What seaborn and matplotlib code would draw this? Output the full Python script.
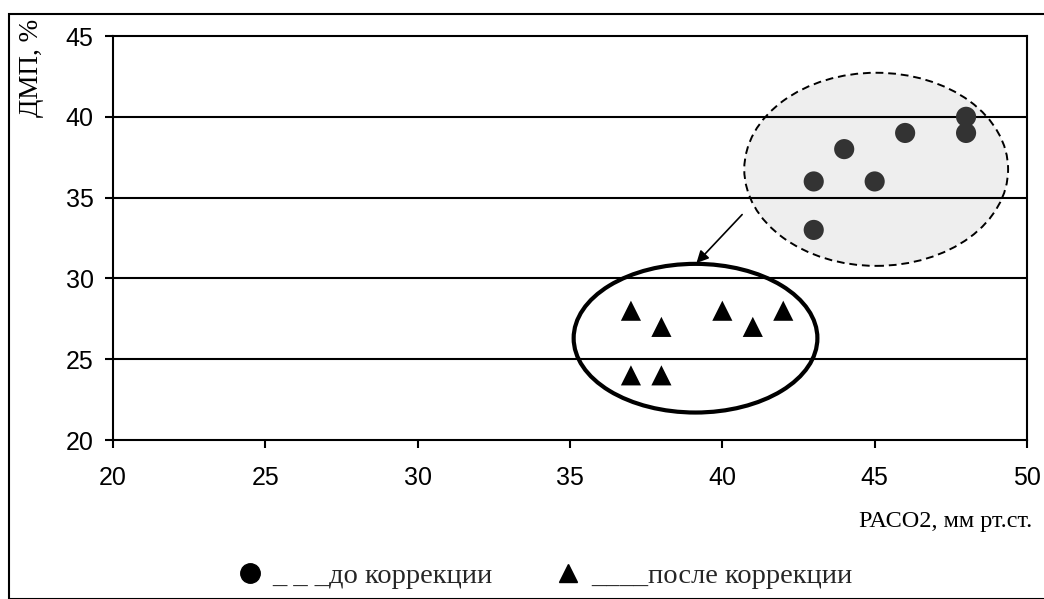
import matplotlib
matplotlib.use("Agg")
import matplotlib.pyplot as plt
import seaborn as sns
import pandas as pd
from matplotlib.patches import Ellipse, Rectangle
from matplotlib.lines import Line2D

# Data
before_x = [43, 43, 44, 45, 46, 48, 48]
before_y = [36, 33, 38, 36, 39, 40, 39]
after_x = [37, 37, 38, 38, 40, 41, 42]
after_y = [28, 24, 27, 24, 28, 27, 28]
group_labels = ["до коррекции", "после коррекции"]
legend_labels = ["_ _ _до коррекции", "____после коррекции"]
x_ticks = [20, 25, 30, 35, 40, 45, 50]
y_ticks = [20, 25, 30, 35, 40, 45]
x_label = "РАСО2, мм рт.ст."
y_label = "ДМП, %"

df = pd.DataFrame({
    "x": before_x + after_x,
    "y": before_y + after_y,
    "g": [group_labels[0]] * len(before_x) + [group_labels[1]] * len(after_x),
})

sns.set_theme(style="white")
plt.rcParams["font.family"] = ["Liberation Sans", "DejaVu Sans"]

fig = plt.figure(figsize=(10.44, 5.99), dpi=100)
W, H = 1044, 599
ax = fig.add_axes([113 / W, 1 - 440 / H, (1027 - 113) / W, (440 - 36) / H])

# outer frame
fig.patches.append(Rectangle((9 / W, 0), 1.2, 1 - 14 / H, transform=fig.transFigure,
                             fill=False, edgecolor="black", linewidth=1.5, zorder=0))

ax.set_xlim(20, 50)
ax.set_ylim(20, 45)

# dashed, grey ellipse (before)
ax.add_patch(Ellipse((45.05, 36.75), 8.66, 11.95, facecolor="#eeeeee",
                     edgecolor="none", zorder=0.5))
ax.add_patch(Ellipse((45.05, 36.75), 8.66, 11.95, facecolor="none",
                     edgecolor="black", linewidth=1.4, linestyle=(0, (4, 2.5)), zorder=2.5))

# grid
for yv in y_ticks[1:-1]:
    ax.axhline(yv, color="black", linewidth=1.5, zorder=1)

# solid ellipse (after)
ax.add_patch(Ellipse((39.12, 26.3), 8.0, 9.2, facecolor="none",
                     edgecolor="black", linewidth=3, zorder=2.5))

# arrow
ax.annotate("", xy=(39.15, 30.95), xytext=(40.65, 33.95),
            arrowprops=dict(arrowstyle="-|>", color="black", lw=1.2,
                            mutation_scale=18, shrinkA=0, shrinkB=0), zorder=3)

sns.scatterplot(data=df, x="x", y="y", hue="g", style="g",
                markers={group_labels[0]: "o", group_labels[1]: "^"},
                palette={group_labels[0]: "#333333", group_labels[1]: "black"},
                s=210, edgecolor="none", linewidth=0, legend=False, ax=ax, zorder=4)

ax.set_xticks(x_ticks)
ax.set_yticks(y_ticks)
ax.tick_params(axis="both", direction="out", length=6, width=1.5, color="black",
               labelsize=18, labelcolor="black", left=True, bottom=True)
ax.tick_params(axis="x", pad=13)
ax.tick_params(axis="y", pad=8)
for s in ax.spines.values():
    s.set_color("black")
    s.set_linewidth(1.5)
ax.set_xlabel("")
ax.set_ylabel("")
ax.grid(False)

serif = ["Liberation Serif", "DejaVu Serif"]
fig.text(1032 / W, 1 - 521 / H, x_label, ha="right", va="center",
         fontsize=17.5, family=serif, color="black")
fig.text(32 / W, 1 - 19 / H, y_label, ha="center", va="top", rotation=90,
         fontsize=19.5, family=serif, color="black")

handles = [
    Line2D([], [], linestyle="none", marker="o", markersize=14, color="black"),
    Line2D([], [], linestyle="none", marker="^", markersize=13, color="black"),
]
leg = fig.legend(handles, legend_labels, loc="center left", bbox_to_anchor=(237 / W, 1 - 576 / H),
                 ncol=2, frameon=False, prop={"family": serif, "size": 20.5},
                 handletextpad=0.35, columnspacing=2.2, handlelength=0.9, borderpad=0,
                 borderaxespad=0)

fig.savefig("out.png", dpi=100)
